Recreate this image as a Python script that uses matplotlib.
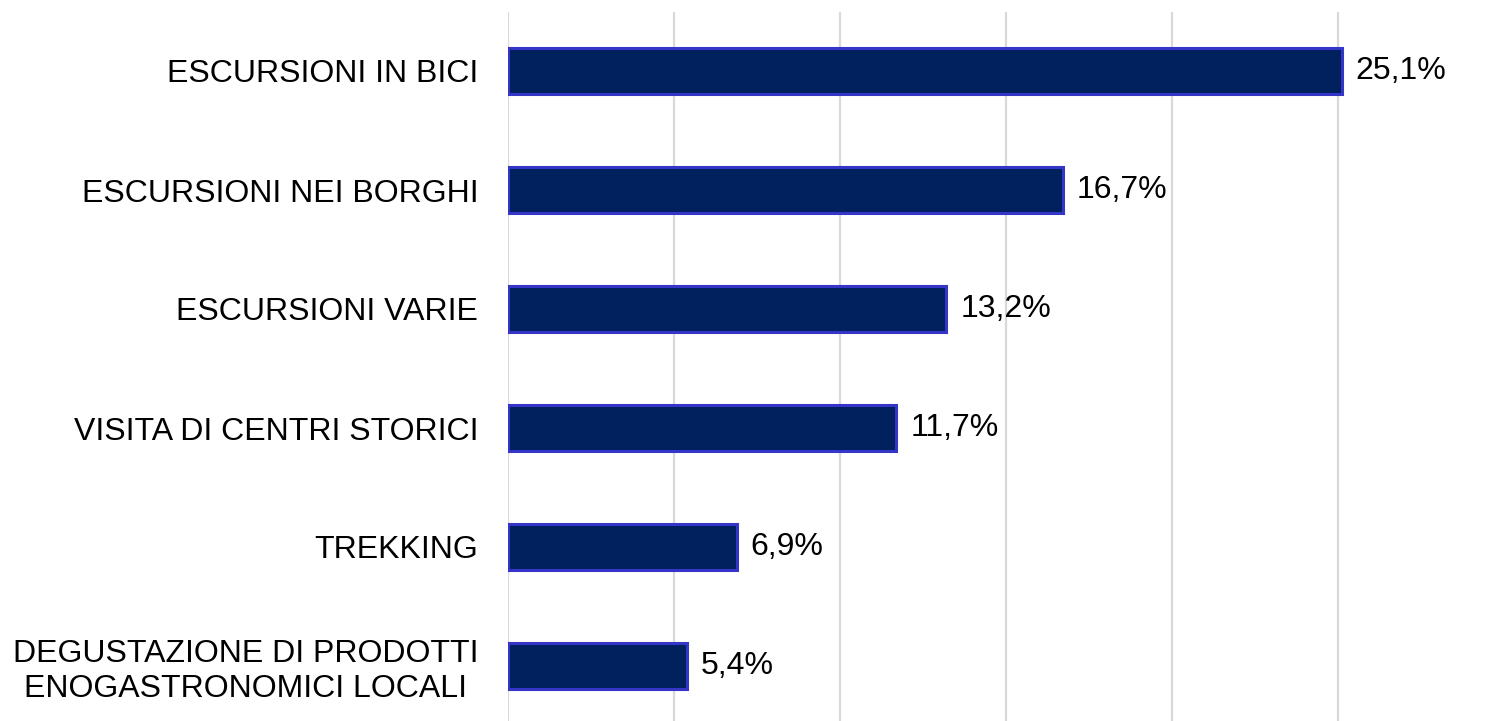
import matplotlib.pyplot as plt
import numpy as np

plt.rcParams['font.family'] = ['Liberation Sans', 'DejaVu Sans']

# Data (top to bottom as shown)
categories = [
    'ESCURSIONI IN BICI',
    'ESCURSIONI NEI BORGHI',
    'ESCURSIONI VARIE',
    'VISITA DI CENTRI STORICI',
    'TREKKING',
    'DEGUSTAZIONE DI PRODOTTI\nENOGASTRONOMICI LOCALI',
]
values = [25.1, 16.7, 13.2, 11.7, 6.9, 5.4]

fig = plt.figure(figsize=(14.88, 7.21), dpi=100)
ax = fig.add_axes([507.5 / 1488, -4.5 / 721, (1488 - 507.5) / 1488, 714 / 721])

y = np.arange(len(categories))[::-1]
ax.barh(y, values, height=0.38, color='#00205E', edgecolor='#3535C8', linewidth=2.2, zorder=3)

for yi, v in zip(y, values):
    ax.text(v + 0.42, yi, f"{v:.1f}%".replace('.', ','), va='center', ha='left',
            fontsize=23, color='#000000')

ax.set_xticks(np.arange(0, 26, 5))
ax.set_yticks(y)
ax.set_yticklabels(categories, fontsize=23, multialignment='center')
ax.set_xlim(0, 29.5)
ax.set_ylim(-0.5, 5.5)
ax.tick_params(axis='y', length=0, pad=21)
ax.tick_params(axis='x', length=0, labelbottom=False)
ax.xaxis.grid(True, color='#D9D9D9', linewidth=1.6, zorder=0)
for s in ax.spines.values():
    s.set_visible(False)

fig.savefig('out.png', dpi=100)
